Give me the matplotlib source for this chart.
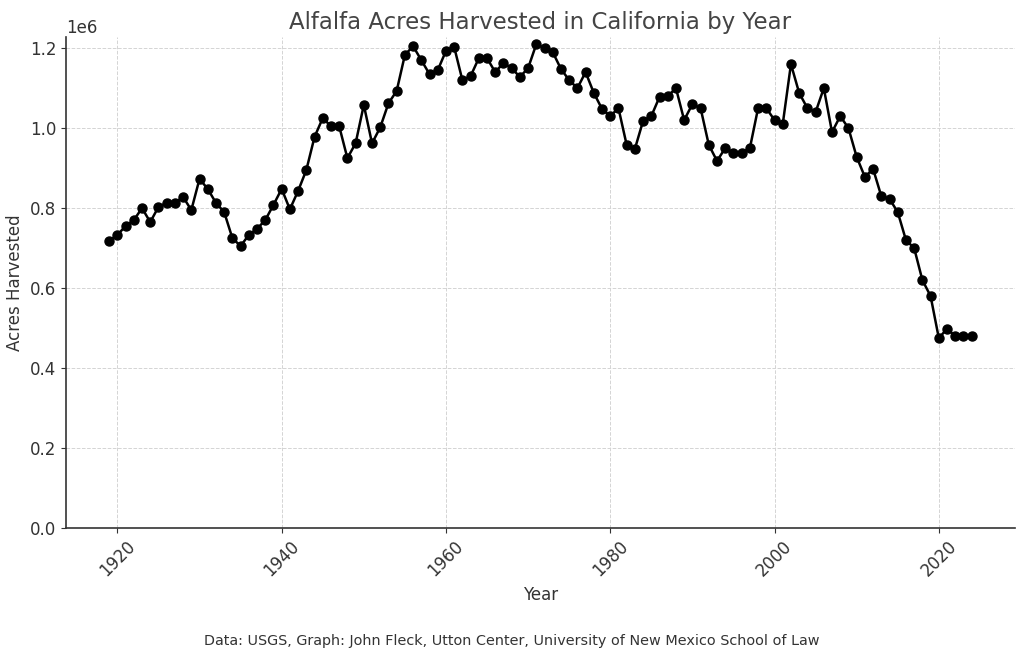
import matplotlib
matplotlib.use("Agg")
import matplotlib.pyplot as plt

# alfalfa acres harvested in California
years = list(range(1919, 2025))
acres = [
    718000, 733000, 755000, 770000, 800000, 765000, 803000, 813000, 813000, 828000,  # 1919-1928
    795000, 873000, 848000, 813000, 790000, 725000, 705000, 733000, 748000, 770000,  # 1929-1938
    808000, 848000, 797000, 843000, 895000, 978000, 1025000, 1005000, 1005000, 925000,  # 1939-1948
    962000, 1058000, 962000, 1002000, 1062000, 1093000, 1183000, 1205000, 1170000, 1135000,  # 1949-1958
    1145000, 1193000, 1203000, 1120000, 1130000, 1175000, 1175000, 1140000, 1163000, 1150000,  # 1959-1968
    1128000, 1150000, 1210000, 1200000, 1190000, 1148000, 1120000, 1100000, 1140000, 1088000,  # 1969-1978
    1048000, 1030000, 1050000, 958000, 948000, 1018000, 1030000, 1078000, 1080000, 1100000,  # 1979-1988
    1020000, 1060000, 1050000, 958000, 918000, 950000, 938000, 938000, 950000, 1050000,  # 1989-1998
    1050000, 1020000, 1010000, 1160000, 1088000, 1050000, 1040000, 1100000, 990000, 1030000,  # 1999-2008
    1000000, 928000, 878000, 898000, 830000, 823000, 790000, 720000, 700000, 620000,  # 2009-2018
    580000, 475000, 498000, 480000, 480000, 480000,  # 2019-2024
]

title = "Alfalfa Acres Harvested in California by Year"
source = "Data: USGS, Graph: John Fleck, Utton Center, University of New Mexico School of Law"

txt = "#333333"
plt.rcParams['font.family'] = ['DejaVu Sans']

fig = plt.figure(figsize=(10.24, 6.6), dpi=100)
ax = fig.add_axes([0.0645, 0.2, 0.9265, 0.744])

ax.plot(years, acres, color="black", marker="o", markersize=6.5, linewidth=1.8)

ax.set_ylim(0, 1228000)
ax.set_xticks([1920, 1940, 1960, 1980, 2000, 2020])
ax.set_yticks([0, 200000, 400000, 600000, 800000, 1000000, 1200000])
ax.grid(True, linestyle="--", color="#d4d4d4", linewidth=0.7)
ax.set_axisbelow(True)

for s in ["top", "right"]:
    ax.spines[s].set_visible(False)
for s in ["left", "bottom"]:
    ax.spines[s].set_color("#333333")
    ax.spines[s].set_linewidth(1.2)

ax.tick_params(axis="x", labelrotation=45, labelsize=12, colors=txt)
ax.tick_params(axis="y", labelsize=12, colors=txt)
ax.yaxis.get_offset_text().set_fontsize(12)
ax.yaxis.get_offset_text().set_color(txt)

ax.set_title(title, fontsize=16.5, color="#444444")
ax.set_xlabel("Year", fontsize=12, color=txt)
ax.set_ylabel("Acres Harvested", fontsize=12, color=txt)

fig.text(0.5, 0.022, source, ha="center", fontsize=10.4, color=txt)

fig.savefig("out.png")
